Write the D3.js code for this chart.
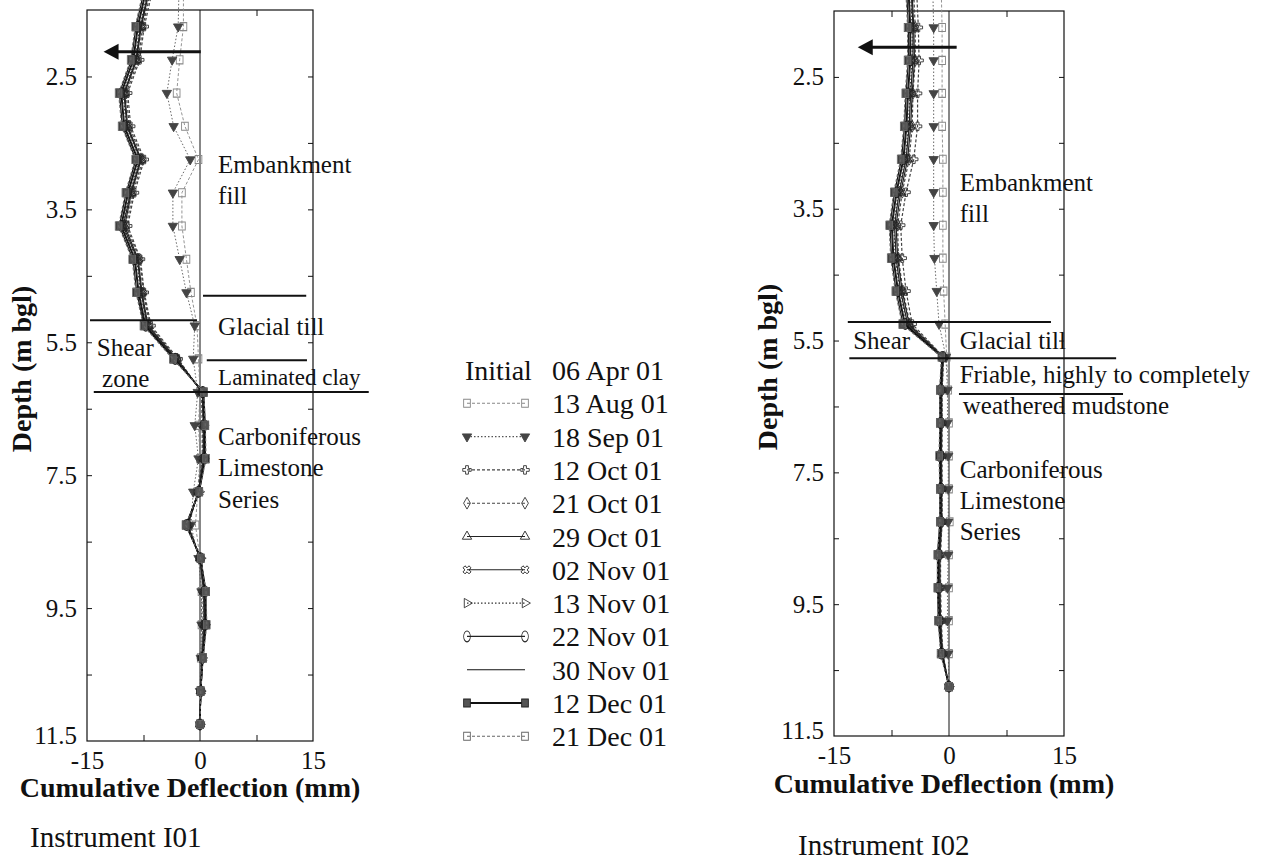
<!DOCTYPE html>
<html>
<head>
<meta charset="utf-8">
<script src="https://cdn.jsdelivr.net/npm/d3@7"></script>
<style>
body { margin: 0; background: #fff; }
text { font-family: "Liberation Serif", "Times New Roman", serif; fill: #111; }
</style>
</head>
<body>
<svg id="chart" width="1278" height="865"></svg>
<script>
// depths of inclinometer readings (m bgl)
var depthsI01 = [0.25,0.75,1.25,1.75,2.25,2.75,3.25,3.75,4.25,4.75,5.25,5.75,6.25,6.75,7.25,7.75,8.25,8.75,9.25,9.75,10.25,10.75,11.25];
var depthsI02 = [0.25,0.75,1.25,1.75,2.25,2.75,3.25,3.75,4.25,4.75,5.25,5.75,6.25,6.75,7.25,7.75,8.25,8.75,9.25,9.75,10.25,10.75];

// legend / reading dates
var initialLabel = "Initial";
var initialDate = "06 Apr 01";
var readingDates = ["13 Aug 01","18 Sep 01","12 Oct 01","21 Oct 01","29 Oct 01","02 Nov 01","13 Nov 01","22 Nov 01","30 Nov 01","12 Dec 01","21 Dec 01"];

// axis tick labels (as printed on the original)
var yLabelDepths = [1.5,3.5,5.5,7.5,9.5,11.5];
var yTickLabels = ["2.5","3.5","5.5","7.5","9.5","11.5"];
var yMinorTicks = [1.5,2.5,3.5,4.5,5.5,6.5,7.5,8.5,9.5,10.5];
var xTickValues = [-15,0,15];
var xTickLabels = ["-15","0","15"];
var xMinorTicks = [-7.5,7.5];

// Instrument I01 cumulative deflection (mm)
var i01Aug13 = [-2.2,-2.2,-2.7,-3.1,-2.0,-0.2,-2.4,-2.4,-1.8,-1.2,-0.4,-0.2,0.0,-0.2,0.0,-0.3,-0.6,0.0,0.2,0.2,0.1,0.0,0.0];
var i01Sep18 = [-2.8,-2.9,-3.7,-4.4,-3.5,-1.3,-3.6,-3.6,-2.7,-1.8,-0.7,-0.9,-0.3,-0.7,-0.2,-0.9,-1.2,-0.2,0.2,0.2,0.1,0.0,0.0];
var i01Oct12 = [-6.4,-7.4,-8.0,-9.6,-9.2,-7.4,-8.7,-9.6,-7.9,-7.4,-6.5,-2.9,0.2,0.3,0.3,-0.3,-1.5,0.0,0.4,0.4,0.2,0.1,0.0];
var i01Oct21 = [-6.6,-7.6,-8.2,-9.8,-9.4,-7.6,-8.9,-9.8,-8.0,-7.5,-6.7,-3.0,0.3,0.4,0.4,-0.2,-1.6,0.0,0.5,0.5,0.2,0.1,0.0];
var i01Oct29 = [-6.8,-7.8,-8.4,-10.0,-9.6,-7.8,-9.1,-10.0,-8.2,-7.7,-6.9,-3.1,0.3,0.5,0.5,-0.2,-1.7,0.0,0.5,0.6,0.3,0.1,0.0];
var i01Nov02 = [-6.9,-7.9,-8.5,-10.1,-9.7,-7.9,-9.2,-10.2,-8.3,-7.8,-7.0,-3.2,0.3,0.5,0.5,-0.2,-1.7,0.0,0.6,0.6,0.3,0.1,0.0];
var i01Nov13 = [-7.0,-8.0,-8.6,-10.2,-9.8,-8.0,-9.3,-10.3,-8.4,-7.9,-7.0,-3.2,0.4,0.5,0.6,-0.1,-1.7,0.1,0.6,0.7,0.3,0.1,0.0];
var i01Nov22 = [-7.2,-8.2,-8.8,-10.4,-10.0,-8.2,-9.5,-10.4,-8.6,-8.1,-7.2,-3.3,0.4,0.6,0.6,-0.2,-1.8,0.1,0.7,0.7,0.3,0.1,0.0];
var i01Nov30 = [-7.3,-8.3,-8.9,-10.5,-10.1,-8.3,-9.6,-10.5,-8.7,-8.2,-7.3,-3.4,0.4,0.6,0.7,-0.1,-1.8,0.1,0.7,0.8,0.4,0.1,0.0];
var i01Dec12 = [-7.5,-8.5,-9.1,-10.7,-10.3,-8.5,-9.8,-10.7,-8.9,-8.4,-7.4,-3.5,0.5,0.7,0.7,-0.1,-1.9,0.1,0.8,0.8,0.4,0.1,0.0];
var i01Dec21 = [-7.6,-8.6,-9.2,-10.8,-10.4,-8.6,-9.9,-10.8,-9.0,-8.5,-7.5,-3.6,0.5,0.7,0.8,-0.1,-1.9,0.1,0.8,0.9,0.4,0.1,0.0];

// Instrument I02 cumulative deflection (mm)
var i02Aug13 = [-1.0,-0.9,-0.9,-0.9,-0.9,-0.8,-0.8,-0.8,-0.8,-0.7,-0.5,-0.3,-0.1,0.0,0.0,0.0,0.1,0.0,0.0,0.0,0.0,0.0];
var i02Sep18 = [-2.1,-2.0,-2.0,-2.0,-2.0,-2.0,-2.0,-2.0,-1.9,-1.6,-1.3,-0.4,-0.2,-0.2,-0.1,-0.1,-0.1,-0.1,-0.2,-0.2,-0.1,0.0];
var i02Oct12 = [-4.2,-4.0,-3.9,-4.1,-4.1,-4.6,-5.6,-6.3,-6.1,-5.6,-4.8,-0.7,-0.9,-0.9,-0.9,-0.9,-0.9,-1.1,-1.1,-1.0,-0.8,0.0];
var i02Oct21 = [-4.6,-4.4,-4.4,-4.7,-4.8,-5.2,-6.1,-6.7,-6.6,-6.0,-5.1,-0.7,-0.9,-0.9,-1.0,-0.9,-0.9,-1.2,-1.2,-1.1,-0.8,0.0];
var i02Oct29 = [-4.8,-4.6,-4.5,-4.8,-5.0,-5.4,-6.3,-6.9,-6.7,-6.1,-5.2,-0.8,-1.0,-1.0,-1.0,-1.0,-1.0,-1.2,-1.2,-1.1,-0.9,0.0];
var i02Nov02 = [-4.9,-4.7,-4.7,-5.0,-5.2,-5.6,-6.5,-7.1,-6.9,-6.3,-5.4,-0.8,-1.0,-1.0,-1.1,-1.0,-1.0,-1.3,-1.3,-1.2,-0.9,0.0];
var i02Nov13 = [-5.0,-4.8,-4.8,-5.1,-5.3,-5.7,-6.6,-7.2,-7.0,-6.4,-5.5,-0.8,-1.0,-1.0,-1.1,-1.0,-1.0,-1.3,-1.3,-1.2,-0.9,0.0];
var i02Nov22 = [-5.2,-5.0,-5.0,-5.3,-5.5,-5.9,-6.8,-7.4,-7.2,-6.6,-5.7,-0.9,-1.1,-1.1,-1.2,-1.1,-1.1,-1.4,-1.4,-1.3,-1.0,0.0];
var i02Nov30 = [-5.3,-5.1,-5.1,-5.4,-5.6,-6.0,-6.9,-7.5,-7.3,-6.7,-5.8,-0.9,-1.1,-1.1,-1.2,-1.1,-1.1,-1.4,-1.4,-1.3,-1.0,0.0];
var i02Dec12 = [-5.5,-5.3,-5.3,-5.6,-5.8,-6.2,-7.1,-7.7,-7.5,-6.9,-6.0,-0.9,-1.2,-1.2,-1.2,-1.2,-1.2,-1.5,-1.5,-1.4,-1.0,0.0];
var i02Dec21 = [-5.6,-5.4,-5.4,-5.7,-5.9,-6.3,-7.2,-7.8,-7.6,-7.0,-6.1,-1.0,-1.2,-1.2,-1.3,-1.2,-1.2,-1.5,-1.5,-1.4,-1.1,0.0];

// line style per reading (same order as readingDates)
var styles = [
  {shape:"square",   dash:"3,2",   stroke:"#888", mfill:"none", mstroke:"#888"},
  {shape:"triDown",  dash:"1.5,2", stroke:"#555", mfill:"#444", mstroke:"#444"},
  {shape:"plus",     dash:"3,2",   stroke:"#444", mfill:"none", mstroke:"#333"},
  {shape:"diamond",  dash:"3,2",   stroke:"#444", mfill:"none", mstroke:"#333"},
  {shape:"triUp",    dash:null,    stroke:"#222", mfill:"none", mstroke:"#222"},
  {shape:"times",    dash:null,    stroke:"#222", mfill:"none", mstroke:"#222"},
  {shape:"triRight", dash:"1.5,2", stroke:"#333", mfill:"none", mstroke:"#333"},
  {shape:"ellipse",  dash:null,    stroke:"#222", mfill:"none", mstroke:"#222"},
  {shape:"none",     dash:null,    stroke:"#111", mfill:"none", mstroke:"#111"},
  {shape:"filled",   dash:null,    stroke:"#111", mfill:"#555", mstroke:"#222"},
  {shape:"square",   dash:"3,2",   stroke:"#666", mfill:"none", mstroke:"#666"}
];

var svg = d3.select("#chart");
var serif = '"Liberation Serif", "Times New Roman", serif';

function marker(sel, shape, st) {
  var sym = d3.symbol();
  var rot = 0, sx = 1, sy = 1;
  if (shape === "square" || shape === "filled") { sym.type(d3.symbolSquare).size(45); sy = 1.2; }
  else if (shape === "triDown") { sym.type(d3.symbolTriangle).size(38); rot = 180; }
  else if (shape === "triUp") { sym.type(d3.symbolTriangle).size(38); }
  else if (shape === "triRight") { sym.type(d3.symbolTriangle).size(38); rot = 90; }
  else if (shape === "plus") { sym.type(d3.symbolCross).size(40); }
  else if (shape === "times") { sym.type(d3.symbolCross).size(40); rot = 45; }
  else if (shape === "diamond") { sym.type(d3.symbolDiamond).size(40); }
  else if (shape === "ellipse") { sym.type(d3.symbolCircle).size(55); sx = 0.8; sy = 1.3; }
  else return;
  sel.append("path")
    .attr("d", sym())
    .attr("transform", function(d) { return "translate(" + d[0] + "," + d[1] + ") rotate(" + rot + ") scale(" + sx + "," + sy + ")"; })
    .attr("fill", shape === "plus" || shape === "times" ? "none" : st.mfill)
    .attr("stroke", st.mstroke)
    .attr("stroke-width", 0.9);
}

function drawPanel(p) {
  var x = d3.scaleLinear().domain([-15, 15]).range([p.left, p.right]);
  var y = d3.scaleLinear().domain([0.5, 11.5]).range([p.top, p.bottom]);
  var g = svg.append("g");

  // frame
  g.append("rect")
    .attr("x", p.left).attr("y", p.top)
    .attr("width", p.right - p.left).attr("height", p.bottom - p.top)
    .attr("fill", "none").attr("stroke", "#111").attr("stroke-width", 1.2);

  // inward ticks on all four sides
  g.append("g").attr("transform", "translate(" + p.left + ",0)")
    .call(d3.axisRight(y).tickValues(yMinorTicks).tickSize(5).tickFormat(""));
  g.append("g").attr("transform", "translate(" + p.right + ",0)")
    .call(d3.axisLeft(y).tickValues(yMinorTicks).tickSize(5).tickFormat(""));
  g.append("g").attr("transform", "translate(0," + p.bottom + ")")
    .call(d3.axisTop(x).tickValues(xMinorTicks).tickSize(6).tickFormat(""));
  g.append("g").attr("transform", "translate(0," + p.top + ")")
    .call(d3.axisBottom(x).tickValues(xMinorTicks).tickSize(6).tickFormat(""));

  // tick labels
  var yl = g.append("g").attr("transform", "translate(" + p.left + ",0)")
    .call(d3.axisLeft(y).tickValues(yLabelDepths).tickFormat(function(d, i) { return yTickLabels[i]; }).tickSize(0).tickPadding(10));
  var xl = g.append("g").attr("transform", "translate(0," + p.bottom + ")")
    .call(d3.axisBottom(x).tickValues(xTickValues).tickFormat(function(d, i) { return xTickLabels[i]; }).tickSize(0).tickPadding(10));
  g.selectAll(".domain").remove();
  g.selectAll(".tick line").attr("stroke", "#111");
  [yl, xl].forEach(function(a) {
    a.attr("font-family", null);
    a.selectAll("text").attr("font-size", 25).style("font-family", serif).style("fill", "#111");
  });
  // the printed 11.5 sits a little above the frame corner
  yl.selectAll(".tick text").filter(function(d) { return d === 11.5; }).attr("dy", "0.1em");

  // initial reading = zero line
  g.append("line")
    .attr("x1", x(0)).attr("x2", x(0))
    .attr("y1", y(0.5)).attr("y2", y(11.5))
    .attr("stroke", "#111").attr("stroke-width", 1);

  // readings
  var line = d3.line().x(function(d) { return x(d[1]); }).y(function(d) { return y(d[0]); });
  p.series.forEach(function(vals, si) {
    var st = styles[si];
    var pts = p.depths.map(function(d, i) { return [d, vals[i]]; });
    var sg = g.append("g");
    sg.append("path")
      .attr("d", line(pts))
      .attr("fill", "none")
      .attr("stroke", st.stroke)
      .attr("stroke-width", si < 2 ? 0.9 : 1.2)
      .attr("stroke-dasharray", st.dash);
    var ms = sg.selectAll("g").data(pts.map(function(q) { return [x(q[1]), y(q[0])]; })).enter().append("g");
    marker(ms, st.shape, st);
  });

  // layer boundaries
  p.boundaries.forEach(function(b) {
    g.append("line")
      .attr("x1", x(b.from)).attr("x2", x(b.to))
      .attr("y1", y(b.depth)).attr("y2", y(b.depth))
      .attr("stroke", "#111").attr("stroke-width", 2);
  });

  // movement arrow
  var a = p.arrow;
  g.append("line")
    .attr("x1", x(a.from)).attr("x2", x(a.tip) + 12)
    .attr("y1", y(a.depth)).attr("y2", y(a.depth))
    .attr("stroke", "#111").attr("stroke-width", 3);
  g.append("path")
    .attr("d", "M" + x(a.tip) + "," + y(a.depth) + "l15,-8l0,16z")
    .attr("fill", "#111");

  // layer labels
  p.labels.forEach(function(t) {
    g.append("text")
      .attr("x", x(t.v)).attr("y", y(t.d))
      .attr("font-size", t.size || 25)
      .text(t.text);
  });

  // axis titles
  g.append("text")
    .attr("transform", "translate(" + p.yTitle[0] + "," + p.yTitle[1] + ") rotate(-90)")
    .attr("text-anchor", "middle").attr("font-size", 28).attr("font-weight", "bold")
    .text("Depth (m bgl)");
  g.append("text")
    .attr("x", p.xTitle[0]).attr("y", p.xTitle[1])
    .attr("text-anchor", "middle").attr("font-size", 28).attr("font-weight", "bold")
    .text("Cumulative Deflection (mm)");
  g.append("text")
    .attr("x", p.caption[0]).attr("y", p.caption[1])
    .attr("font-size", 29)
    .text(p.captionText);
}

drawPanel({
  left: 87, right: 313, top: 10, bottom: 741,
  depths: depthsI01,
  series: [i01Aug13, i01Sep18, i01Oct12, i01Oct21, i01Oct29, i01Nov02, i01Nov13, i01Nov22, i01Nov30, i01Dec12, i01Dec21],
  boundaries: [
    {depth: 4.80, from: 0.4, to: 14.1},
    {depth: 5.17, from: -14.6, to: -0.4},
    {depth: 5.77, from: 0.9, to: 14.2},
    {depth: 6.25, from: -14.1, to: 22.4}
  ],
  arrow: {depth: 1.13, from: 0.1, tip: -12.8},
  labels: [
    {text: "Embankment", v: 2.4, d: 2.95},
    {text: "fill", v: 2.4, d: 3.42},
    {text: "Glacial till", v: 2.4, d: 5.39},
    {text: "Laminated clay", v: 2.4, d: 6.14, size: 23},
    {text: "Shear", v: -13.7, d: 5.71},
    {text: "zone", v: -13.0, d: 6.17},
    {text: "Carboniferous", v: 2.4, d: 7.05},
    {text: "Limestone", v: 2.4, d: 7.51},
    {text: "Series", v: 2.4, d: 7.99}
  ],
  yTitle: [31, 369],
  xTitle: [190, 797],
  caption: [30, 847],
  captionText: "Instrument I01"
});

drawPanel({
  left: 834, right: 1064, top: 11, bottom: 736,
  depths: depthsI02,
  series: [i02Aug13, i02Sep18, i02Oct12, i02Oct21, i02Oct29, i02Nov02, i02Nov13, i02Nov22, i02Nov30, i02Dec12, i02Dec21],
  boundaries: [
    {depth: 5.22, from: -13.2, to: 13.3},
    {depth: 5.77, from: -13.0, to: 21.8},
    {depth: 6.31, from: 1.3, to: 22.7}
  ],
  arrow: {depth: 1.05, from: 1.0, tip: -11.9},
  labels: [
    {text: "Embankment", v: 1.4, d: 3.23},
    {text: "fill", v: 1.4, d: 3.70},
    {text: "Shear", v: -12.5, d: 5.63},
    {text: "Glacial till", v: 1.4, d: 5.63},
    {text: "Friable, highly to completely", v: 1.4, d: 6.14},
    {text: "weathered mudstone", v: 1.8, d: 6.62},
    {text: "Carboniferous", v: 1.4, d: 7.59},
    {text: "Limestone", v: 1.4, d: 8.06},
    {text: "Series", v: 1.4, d: 8.53}
  ],
  yTitle: [777, 367],
  xTitle: [944, 793],
  caption: [798, 855],
  captionText: "Instrument I02"
});

// legend
var legend = svg.append("g");
var rowY = function(i) { return 370 + i * 33.3; };
legend.append("text").attr("x", 465).attr("y", rowY(0) + 10).attr("font-size", 28).text(initialLabel);
legend.append("text").attr("x", 552).attr("y", rowY(0) + 10).attr("font-size", 28).text(initialDate);
readingDates.forEach(function(lbl, i) {
  var st = styles[i];
  var yy = rowY(i + 1);
  var row = legend.append("g");
  row.append("line")
    .attr("x1", 467).attr("x2", 525).attr("y1", yy).attr("y2", yy)
    .attr("stroke", st.stroke).attr("stroke-width", st.shape === "filled" ? 1.8 : 1.1)
    .attr("stroke-dasharray", st.dash);
  var ends = row.selectAll("g").data([[467, yy], [525, yy]]).enter().append("g");
  marker(ends, st.shape, st);
  row.append("text").attr("x", 552).attr("y", yy + 10).attr("font-size", 28).text(lbl);
});
</script>
</body>
</html>
